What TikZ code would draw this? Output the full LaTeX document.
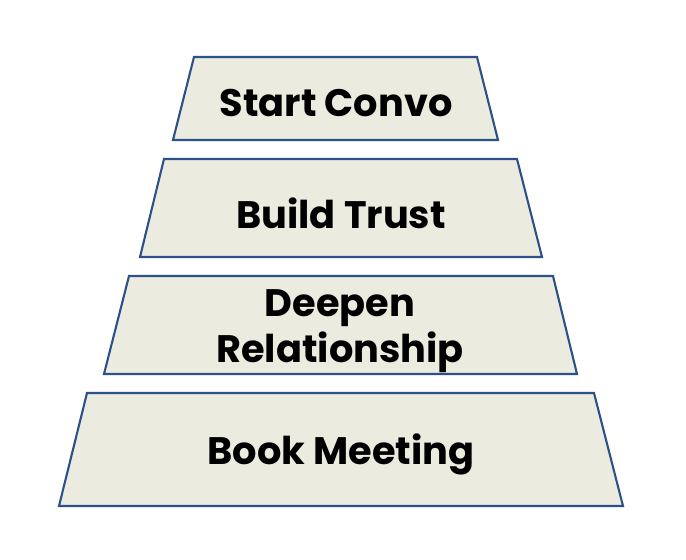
\documentclass[tikz,border=0pt]{standalone}
\usepackage{fontspec}
\setmainfont{Poppins}
\definecolor{tierfill}{HTML}{ECEBE0}
\definecolor{tierline}{HTML}{2A5289}

\begin{document}
\begin{tikzpicture}[x=0.02cm, y=-0.02cm,
  tier/.style={fill=tierfill, draw=tierline, line width=1.2pt},
  tierlabel/.style={font=\fontsize{21.8}{26.5}\selectfont\bfseries, align=center, text=black}]

% page frame (686 x 560 px)
\useasboundingbox (0,0) rectangle (686,560);

% ======================================================================
% FUNNEL TIERS (top to bottom, each one a bit wider)
% ======================================================================
\filldraw[tier] (194,57)  -- (477,57)  -- (498,140) -- (173,140) -- cycle;
\filldraw[tier] (164,159) -- (517,159) -- (542,257) -- (140,257) -- cycle;
\filldraw[tier] (129,276) -- (553,276) -- (577,374) -- (104,374) -- cycle;
\filldraw[tier] (87,393)  -- (594,393) -- (623,506) -- (59,506)  -- cycle;

% tier labels
\node[tierlabel] (start)  at (336,103) {Start Convo};
\node[tierlabel] (trust)  at (341,213) {Build Trust};
\node[tierlabel] (deepen) at (340,331) {Deepen\\Relationship};
\node[tierlabel] (book)   at (341,454) {Book Meeting};

\end{tikzpicture}
\end{document}
